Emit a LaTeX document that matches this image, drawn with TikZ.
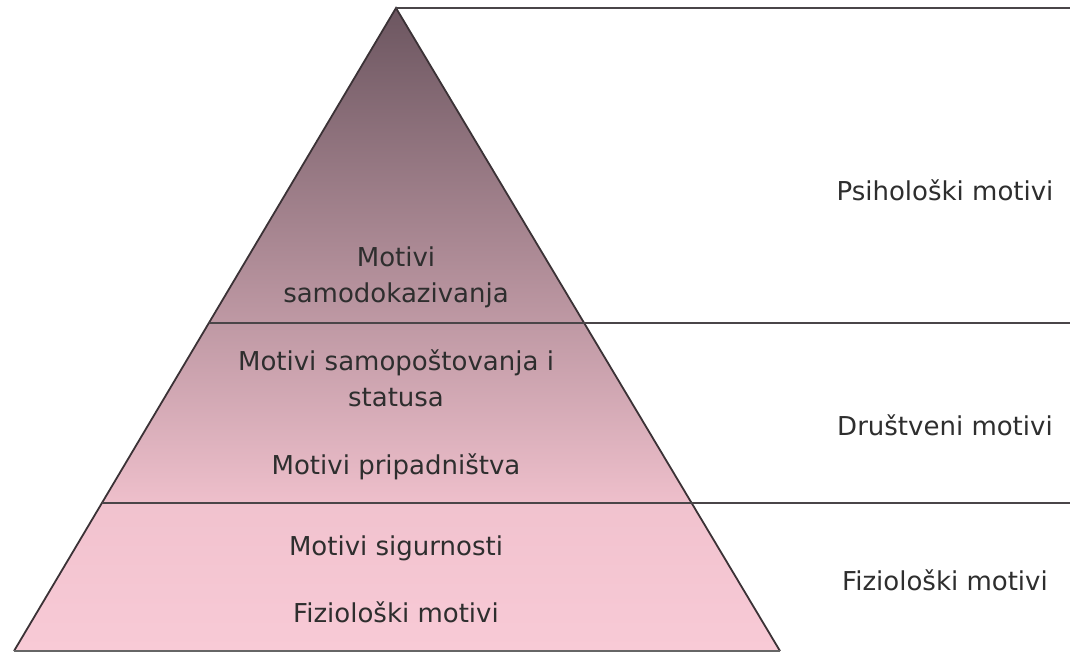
\documentclass[tikz,border=0pt]{standalone}
\usepackage{fontspec}
\setmainfont{DejaVu Sans}
\usetikzlibrary{calc}
\definecolor{apexcol}{HTML}{6C5660}
\definecolor{midcol}{HTML}{EEBFCB}
\definecolor{basecol}{HTML}{F8CAD6}
\definecolor{edgecol}{HTML}{3B3236}
\definecolor{rulecol}{HTML}{4A4548}
\begin{document}
\begin{tikzpicture}[x=1pt,y=-1pt,
    every node/.style={font=\fontsize{26}{36}\selectfont, text=black!82, align=center},
    level/.style={line width=1.8pt, draw=rulecol}]
        \useasboundingbox [fill=white] (0,0) rectangle (1070,654);
        \coordinate (apex) at (396,8);
        \coordinate (baseL) at (14,651);
        \coordinate (baseR) at (780,651);
        \coordinate (topR) at (1070,8);
        \coordinate (midL) at ($(apex)!0.4899!(baseL)$);
        \coordinate (midR) at (1070,323);
        \coordinate (lowL) at ($(apex)!0.7698!(baseL)$);
        \coordinate (lowE) at ($(apex)!0.7698!(baseR)$);
        \coordinate (lowR) at (1070,503);
        \shade [top color=apexcol, bottom color=midcol] (apex) -- (lowE) -- (lowL) -- cycle;
        \shade [top color=midcol!70!basecol, bottom color=basecol] (lowL) -- (lowE) -- (baseR) -- (baseL) -- cycle;
        \draw [line width=1.8pt, draw=edgecol, line join=miter] (baseL) -- (apex) -- (baseR);
        \draw [line width=1.8pt, draw=black!60] (baseL) -- (baseR);
        \draw [level] (apex) -- (topR);
        \draw [level] (midL) -- (midR);
        \draw [level] (lowL) -- (lowR);
        \node (samodok) at (396,277) {Motivi\\samodokazivanja};
        \node (samopost) at (396,378) {Motivi samopoštovanja i\\statusa};
        \node (pripad) at (396,467) {Motivi pripadništva};
        \node (sigur) at (396,548) {Motivi sigurnosti};
        \node (fiziol) at (396,612) {Fiziološki motivi};
        \node (psihG) at (945,190) {Psihološki motivi};
        \node (drustG) at (945,425) {Društveni motivi};
        \node (fizG) at (945,580) {Fiziološki motivi};
      \end{tikzpicture}
\end{document}
